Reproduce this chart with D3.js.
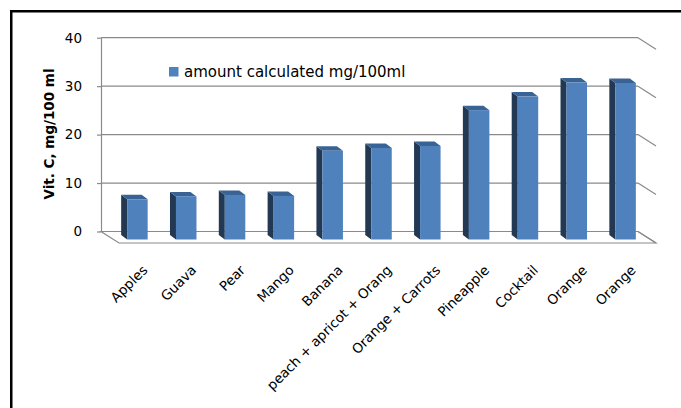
<!DOCTYPE html>
<html>
<head>
<meta charset="utf-8">
<script src="https://cdn.jsdelivr.net/npm/d3@7"></script>
<style>
  body { margin: 0; background: #fff; }
  svg { display: block; font-family: "DejaVu Sans", sans-serif; }
</style>
</head>
<body>
<div class="chart_box"></div>
<script>
// the data
var categories = ["Apples", "Guava", "Pear", "Mango", "Banana", "peach + apricot + Orang",
  "Orange + Carrots", "Pineapple", "Cocktail", "Orange", "Orange"];
var vit_c = [8.3, 8.9, 9.2, 9.0, 18.3, 18.9, 19.3, 26.7, 29.5, 32.4, 32.3];
var y_ticks = [0, 10, 20, 30, 40];
var series_name = "amount calculated mg/100ml";
var y_title = "Vit. C, mg/100 ml";

var width = 681, height = 408;
var wall = { left: 101, right: 638, top: 37.7, bottom: 231.5 };
var floor_depth = { dx: 18, dy: 11.5 };   // back wall -> front edge of floor
var bar_back = { dx: 6, dy: 3.5 };        // back face of bars
var bar_front = { dx: 12, dy: 8 };        // front face of bars

var svg = d3.select(".chart_box").append("svg")
  .attr("width", width)
  .attr("height", height);

// outer frame
svg.append("rect")
  .attr("x", 11.25).attr("y", 11.25)
  .attr("width", 720).attr("height", 500)
  .attr("fill", "none")
  .attr("stroke", "#000")
  .attr("stroke-width", 2.5);

var x_scale = d3.scaleBand()
  .domain(d3.range(categories.length))
  .range([wall.left, wall.right])
  .paddingInner(0.58)
  .paddingOuter(0.29);

var y_scale = d3.scaleLinear()
  .domain([0, 40])
  .range([wall.bottom, wall.top]);

// floor
var floor_pts = [
  [wall.left, wall.bottom],
  [wall.right, wall.bottom],
  [wall.right + floor_depth.dx, wall.bottom + floor_depth.dy],
  [wall.left + floor_depth.dx, wall.bottom + floor_depth.dy]
];
svg.append("polygon")
  .attr("points", floor_pts.map(p => p.join(",")).join(" "))
  .attr("fill", "#fff")
  .attr("stroke", "#8a8a8a")
  .attr("stroke-width", 1.2);

// gridlines on back wall + right slants
var grid = svg.append("g").attr("class", "grid");
grid.selectAll("line.h")
  .data(y_ticks)
  .enter()
  .append("line")
    .attr("class", "h")
    .attr("x1", wall.left).attr("x2", wall.right)
    .attr("y1", d => y_scale(d)).attr("y2", d => y_scale(d))
    .attr("stroke", "#8a8a8a").attr("stroke-width", 1.2);
grid.selectAll("line.s")
  .data(y_ticks)
  .enter()
  .append("line")
    .attr("class", "s")
    .attr("x1", wall.right).attr("x2", wall.right + floor_depth.dx)
    .attr("y1", d => y_scale(d)).attr("y2", d => y_scale(d) + floor_depth.dy)
    .attr("stroke", "#8a8a8a").attr("stroke-width", 1.2);

// y axis
var y_axis = svg.append("g")
  .attr("transform", "translate(" + wall.left + ",0)")
  .call(d3.axisLeft(y_scale).tickValues(y_ticks).tickSize(4).tickSizeOuter(0).tickPadding(15));
y_axis.select(".domain").attr("stroke", "#8a8a8a").attr("stroke-width", 1.2);
y_axis.selectAll(".tick line").attr("stroke", "#8a8a8a").attr("stroke-width", 1.2);
y_axis.selectAll(".tick text")
  .attr("font-family", "DejaVu Sans")
  .attr("font-size", 13.5)
  .attr("fill", "#000");

svg.append("text")
  .attr("transform", "translate(54," + 134 + ") rotate(-90)")
  .attr("text-anchor", "middle")
  .attr("font-weight", "bold")
  .attr("font-size", 13.5)
  .attr("fill", "#000")
  .text(y_title);

// bars (oblique 3d boxes)
var bars = svg.selectAll("g.bar")
  .data(vit_c)
  .enter()
  .append("g")
  .attr("class", "bar");

bars.append("polygon")   // left side
  .attr("fill", "#223853")
  .attr("points", (d, i) => {
    var x = x_scale(i);
    var p = [
      [x + bar_back.dx, y_scale(d) + bar_back.dy],
      [x + bar_front.dx, y_scale(d) + bar_front.dy],
      [x + bar_front.dx, y_scale(0) + bar_front.dy],
      [x + bar_back.dx, y_scale(0) + bar_back.dy]
    ];
    return p.map(q => q.join(",")).join(" ");
  });
bars.append("polygon")   // top
  .attr("fill", "#3a6395")
  .attr("points", (d, i) => {
    var x = x_scale(i), w = x_scale.bandwidth();
    var p = [
      [x + bar_back.dx, y_scale(d) + bar_back.dy],
      [x + bar_back.dx + w, y_scale(d) + bar_back.dy],
      [x + bar_front.dx + w, y_scale(d) + bar_front.dy],
      [x + bar_front.dx, y_scale(d) + bar_front.dy]
    ];
    return p.map(q => q.join(",")).join(" ");
  });
bars.append("rect")      // front
  .attr("fill", "#4f81bd")
  .attr("x", (d, i) => x_scale(i) + bar_front.dx)
  .attr("y", d => y_scale(d) + bar_front.dy)
  .attr("width", x_scale.bandwidth())
  .attr("height", d => y_scale(0) - y_scale(d));

// category labels
svg.selectAll("text.cat")
  .data(categories)
  .enter()
  .append("text")
    .attr("class", "cat")
    .attr("text-anchor", "end")
    .attr("font-size", 13.5)
    .attr("fill", "#000")
    .attr("transform", (d, i) => {
      var cx = x_scale(i) + x_scale.bandwidth() / 2 + bar_front.dx;
      return "translate(" + (cx + 11) + ",271) rotate(-45)";
    })
    .text(d => d);

// legend
svg.append("rect")
  .attr("x", 169).attr("y", 67)
  .attr("width", 9.5).attr("height", 9.5)
  .attr("fill", "#4f81bd");
svg.append("text")
  .attr("x", 184).attr("y", 77)
  .attr("font-size", 15)
  .attr("fill", "#000")
  .text(series_name);
</script>
</body>
</html>
